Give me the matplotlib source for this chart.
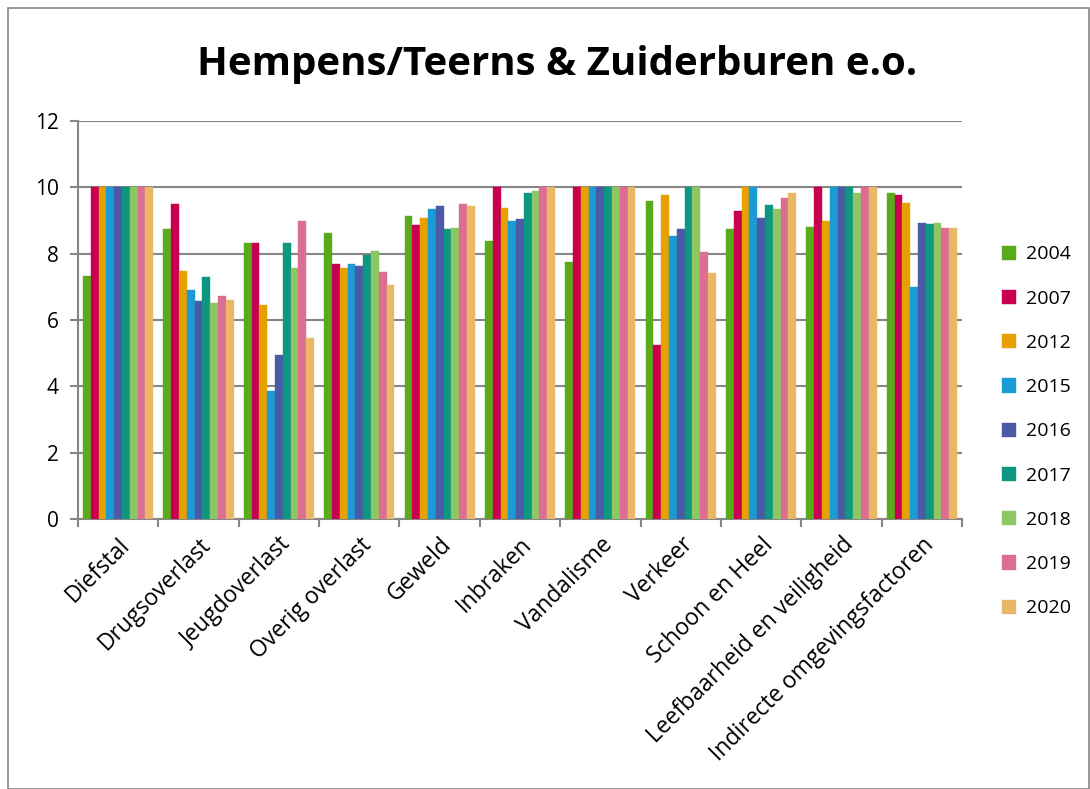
import matplotlib.pyplot as plt
import numpy as np
from matplotlib.patches import Rectangle

categories = ['Diefstal', 'Drugsoverlast', 'Jeugdoverlast', 'Overig overlast', 'Geweld',
              'Inbraken', 'Vandalisme', 'Verkeer', 'Schoon en Heel',
              'Leefbaarheid en veiligheid', 'Indirecte omgevingsfactoren']
years = ['2004', '2007', '2012', '2015', '2016', '2017', '2018', '2019', '2020']

v2004 = [7.34, 8.74, 8.32, 8.62, 9.13, 8.38, 7.76, 9.60, 8.73, 8.80, 9.84]
v2007 = [10.0, 9.49, 8.32, 7.68, 8.86, 10.0, 10.0, 5.24, 9.29, 10.0, 9.76]
v2012 = [10.0, 7.49, 6.45, 7.57, 9.09, 9.39, 10.0, 9.76, 10.0, 8.98, 9.53]
v2015 = [10.0, 6.91, 3.85, 7.68, 9.36, 8.98, 10.0, 8.54, 10.0, 10.0, 6.98]
v2016 = [10.0, 6.56, 4.94, 7.64, 9.43, 9.04, 10.0, 8.73, 9.09, 10.0, 8.93]
v2017 = [10.0, 7.31, 8.32, 7.95, 8.74, 9.82, 10.0, 10.0, 9.48, 10.0, 8.89]
v2018 = [10.0, 6.51, 7.56, 8.08, 8.78, 9.90, 10.0, 10.0, 9.36, 9.82, 8.93]
v2019 = [10.0, 6.71, 9.00, 7.45, 9.51, 10.0, 10.0, 8.05, 9.67, 10.0, 8.78]
v2020 = [10.0, 6.60, 5.45, 7.06, 9.43, 10.0, 10.0, 7.41, 9.82, 10.0, 8.78]

series = [v2004, v2007, v2012, v2015, v2016, v2017, v2018, v2019, v2020]
colors = ['#5aab1c', '#c8004f', '#e6a000', '#1b9bd6', '#4a5aa6',
          '#0f9680', '#8cc764', '#dc6e92', '#e8b868']

plt.rcParams['font.family'] = ['Open Sans', 'DejaVu Sans']

fig = plt.figure(figsize=(10.9, 7.89), dpi=100)
ax = fig.add_axes([78 / 1090, 1 - 519 / 789, 884 / 1090, 398 / 789])

x = np.arange(len(categories))
w = 0.097
for i, (vals, c) in enumerate(zip(series, colors)):
    ax.bar(x + (i - 4) * w, vals, w, color=c, label=years[i],
           edgecolor=c, linewidth=0.3, zorder=3)

ax.set_xlim(-0.5, len(categories) - 0.5)
ax.set_ylim(0, 12)
ax.set_yticks(range(0, 13, 2))
ax.yaxis.grid(True, color='#868686', linewidth=1.5, zorder=0)
ax.set_xticks(x)
ax.set_xticklabels(categories, rotation=45, ha='right', rotation_mode='anchor',
                   fontsize=16.5)
ax.set_xticks(np.arange(-0.5, len(categories), 1), minor=True)
ax.tick_params(axis='x', which='major', length=0, pad=10)
ax.tick_params(axis='x', which='minor', length=6, color='#868686', width=1.5)
ax.tick_params(axis='y', labelsize=15, length=6, color='#868686', width=1.5, pad=8)
for s in ['top', 'right']:
    ax.spines[s].set_visible(False)
for s in ['left', 'bottom']:
    ax.spines[s].set_color('#868686')
    ax.spines[s].set_linewidth(1.5)

fig.text(557 / 1090, 1 - 65 / 789, 'Hempens/Teerns & Zuiderburen e.o.', ha='center',
         va='center', fontsize=29, fontweight='bold')

ax.legend(loc='center left', bbox_to_anchor=(1.025, 0.22), frameon=False,
          fontsize=14, handlelength=0.75, handleheight=0.75, labelspacing=1.35,
          handletextpad=0.5)

fig.patches.append(Rectangle((8 / 1090, 0), 1 - 9 / 1090, 1 - 8 / 789,
                             transform=fig.transFigure, fill=False,
                             edgecolor='#868686', linewidth=1.2))

fig.savefig('out.png', dpi=100)
